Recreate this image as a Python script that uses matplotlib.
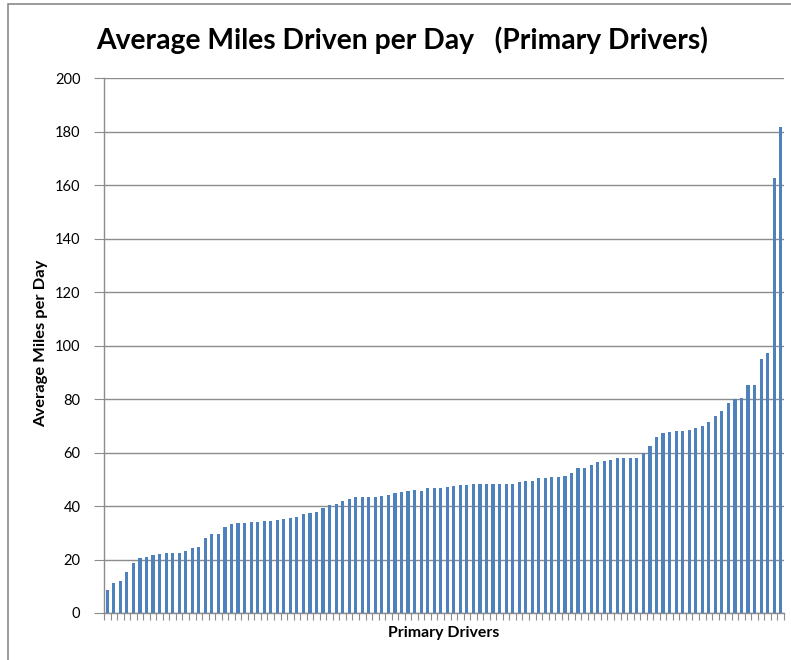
import matplotlib
matplotlib.use("Agg")
import matplotlib.pyplot as plt
from matplotlib.patches import Rectangle
import numpy as np

plt.rcParams['font.family'] = ['Lato', 'DejaVu Sans']

title = "Average Miles Driven per Day   (Primary Drivers)"
x_label = "Primary Drivers"
y_label = "Average Miles per Day"
y_ticks = [0, 20, 40, 60, 80, 100, 120, 140, 160, 180, 200]

miles = [
    8.7, 11.2, 12.1, 15.3, 18.8, 20.4, 21.0, 21.5, 21.9, 22.3,
    22.3, 22.5, 23.2, 24.4, 24.7, 28.1, 29.4, 29.4, 32.3, 33.1,
    33.5, 33.7, 34.1, 34.1, 34.5, 34.5, 34.7, 35.2, 35.6, 36.0,
    36.9, 37.2, 37.9, 39.4, 40.2, 40.6, 41.7, 42.6, 43.2, 43.2,
    43.2, 43.2, 43.8, 44.2, 44.8, 45.1, 45.5, 45.8, 45.7, 46.6,
    46.6, 46.6, 47.2, 47.3, 47.9, 47.9, 48.2, 48.2, 48.2, 48.4,
    48.4, 48.4, 48.4, 48.8, 49.2, 49.4, 50.3, 50.3, 50.7, 50.9,
    51.4, 52.4, 54.1, 54.3, 55.2, 56.4, 56.7, 57.1, 57.8, 58.1,
    58.1, 58.1, 60.0, 62.4, 65.8, 67.2, 67.8, 68.2, 68.2, 68.4,
    69.3, 69.9, 71.5, 73.7, 75.4, 78.5, 79.9, 80.4, 85.1, 85.3,
    94.8, 97.3, 162.6, 181.6,
]

W, H = 791, 660
fig = plt.figure(figsize=(W / 100, H / 100), dpi=100)
fig.patch.set_facecolor('white')

# outer chart border (extends past right/bottom edges)
fig.add_artist(Rectangle((8 / W, -0.05), 1.2, (H - 4) / H + 0.05 - 0.0,
                         transform=fig.transFigure, fill=False,
                         edgecolor='#8a8a8a', linewidth=1.2))

ax = fig.add_axes([104 / W, (H - 613) / H, 680 / W, 535 / H])
n = len(miles)
x = np.arange(n)
ax.bar(x, miles, width=0.48, color='#4F81BD', zorder=3)
ax.set_xlim(-0.5, n - 0.5)
ax.set_ylim(0, 200)
ax.set_yticks(y_ticks)
ax.set_yticklabels([str(v) for v in y_ticks], fontsize=10.5)
ax.yaxis.grid(True, color='#8c8c8c', linewidth=1.0, zorder=0)
ax.set_axisbelow(True)
ax.set_xticks(np.arange(n + 1) - 0.5)
ax.set_xticklabels([])
ax.tick_params(axis='x', direction='out', length=5, width=0.8, color='#8c8c8c')
ax.tick_params(axis='y', direction='out', length=7, width=0.8, color='#8c8c8c',
               pad=10)
for s in ['top', 'right']:
    ax.spines[s].set_visible(False)
for s in ['left', 'bottom']:
    ax.spines[s].set_color('#8c8c8c')
    ax.spines[s].set_linewidth(1.0)

fig.canvas.draw()
r = fig.canvas.get_renderer()

def fit(t, target, horizontal=True):
    bb = t.get_window_extent(r)
    cur = bb.width if horizontal else bb.height
    t.set_fontsize(t.get_fontsize() * target / cur)

tt = fig.text(402 / W, 1 - 40 / H, title, ha='center', va='center',
              fontsize=22, fontweight='bold')
fit(tt, 611)
xl = fig.text(444 / W, 1 - 633 / H, x_label, ha='center', va='center',
              fontsize=10, fontweight='bold')
fit(xl, 111)
yl = fig.text(41 / W, 1 - 343 / H, y_label, ha='center', va='center',
              rotation=90, fontsize=10, fontweight='bold')
fit(yl, 167, horizontal=False)

fig.savefig('out.png', dpi=100)
